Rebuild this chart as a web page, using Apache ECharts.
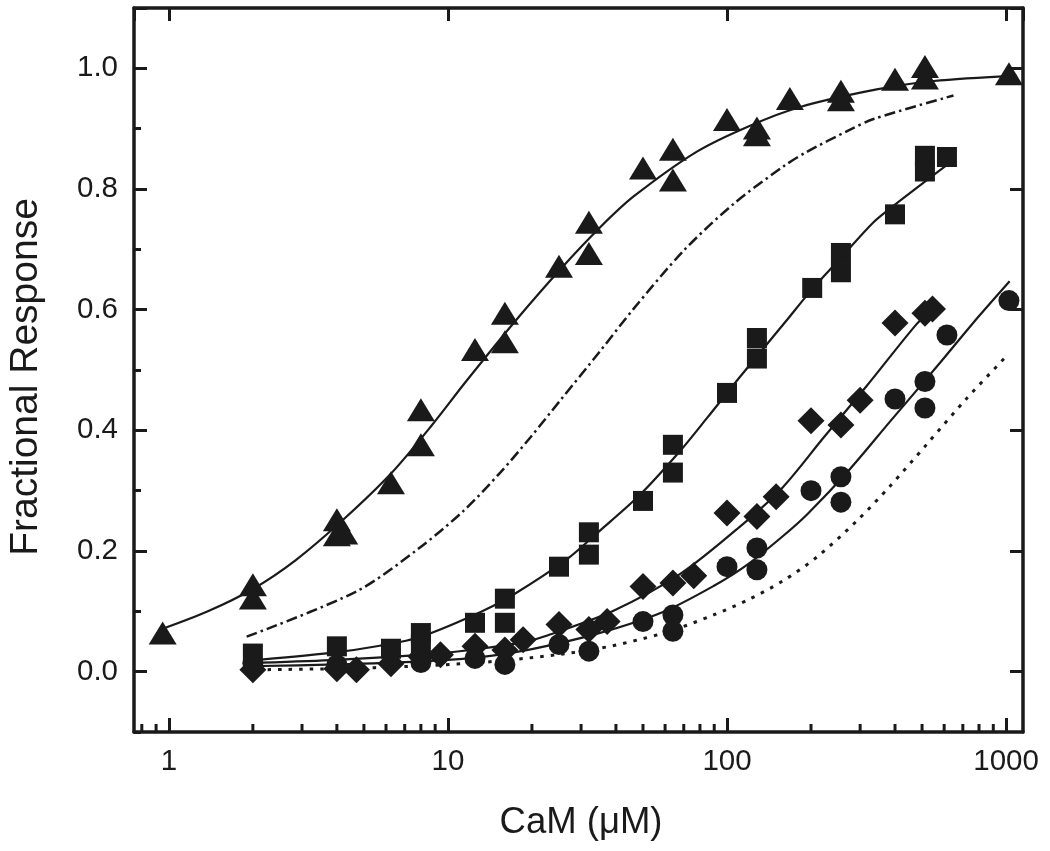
<!DOCTYPE html>
<html>
<head>
<meta charset="utf-8">
<script src="https://cdn.jsdelivr.net/npm/echarts/dist/echarts.min.js"></script>
<style>html,body{margin:0;padding:0;background:#fff}#chart{width:1050px;height:851px}</style>
</head>
<body>
<div id="chart"></div>
<script>
// ---- tick values / labels ----
const xTickValues = [1, 10, 100, 1000];
const yTickValues = [0, 0.2, 0.4, 0.6, 0.8, 1.0];
const xMinorTicks = [0.8, 0.9, 2, 3, 4, 5, 6, 7, 8, 9, 20, 30, 40, 50, 60, 70, 80, 90, 200, 300, 400, 500, 600, 700, 800, 900];
const xTitle = 'CaM (\u03bcM)';
const yTitle = 'Fractional Response';

// ---- measured points [CaM (uM), fractional response] ----
const triangles = [[0.95,0.064],[2,0.144],[2,0.122],[4,0.252],[4,0.227],[4.25,0.230],[6.25,0.313],[8,0.376],[8,0.434],
  [12.5,0.534],[16,0.594],[16,0.547],[25,0.672],[32,0.745],[32,0.693],[50,0.835],[64,0.866],[64,0.815],[100,0.915],
  [128,0.901],[128,0.890],[168,0.950],[256,0.962],[256,0.948],[400,0.982],[512,1.003],[512,0.984],[1024,0.991]];
const squares = [[2,0.030],[4,0.042],[6.25,0.038],[8,0.064],[8,0.045],[12.5,0.081],[16,0.121],[16,0.081],[25,0.174],
  [32,0.231],[32,0.194],[50,0.283],[64,0.376],[64,0.330],[100,0.462],[128,0.553],[128,0.519],[202,0.636],[256,0.694],
  [256,0.662],[400,0.758],[512,0.855],[512,0.829],[614,0.853]];
const diamonds = [[2,0.003],[4,0.005],[4.7,0.003],[6.25,0.013],[8,0.025],[9.4,0.028],[12.5,0.042],[16,0.036],[18.6,0.053],
  [25,0.078],[32,0.070],[37.2,0.083],[50,0.141],[64,0.147],[76,0.159],[100,0.263],[128,0.257],[150,0.290],[200,0.416],
  [256,0.409],[300,0.450],[400,0.578],[512,0.594],[545,0.601]];
const circles = [[2,0.014],[4,0.011],[8,0.015],[12.5,0.022],[16,0.012],[25,0.045],[32,0.034],[50,0.083],[64,0.094],
  [64,0.067],[100,0.174],[128,0.205],[128,0.169],[200,0.300],[256,0.323],[256,0.281],[400,0.452],[512,0.481],
  [512,0.437],[614,0.558],[1024,0.615]];

// ---- fitted curves ----
const fitTriangles = [[0.95,0.071],[1.38,0.100],[2,0.137],[2.85,0.185],[4.24,0.253],[6.24,0.328],[8.67,0.406],
  [11.7,0.483],[17.2,0.578],[25.3,0.667],[35.2,0.737],[46.4,0.788],[78,0.862],[121,0.905],[183,0.936],[344,0.965],
  [550,0.979],[1090,0.988]];
const fitDashDot = [[1.9,0.058],[4.7,0.133],[7.8,0.203],[11.4,0.267],[15.4,0.330],[19.8,0.389],[25.3,0.450],
  [35.2,0.532],[46,0.600],[70,0.698],[106,0.776],[160,0.838],[194,0.862],[275,0.898],[335,0.916],[648,0.955]];
const fitSquares = [[1.9,0.018],[3.8,0.031],[5.7,0.043],[8,0.058],[13.1,0.099],[17.2,0.128],[26.8,0.187],[34.3,0.230],
  [49,0.294],[68,0.366],[85,0.421],[111,0.488],[162,0.580],[202,0.634],[256,0.686],[335,0.745],[400,0.774],[640,0.846]];
const fitDiamonds = [[1.9,0.014],[3.8,0.019],[8.7,0.029],[13.1,0.038],[18.7,0.049],[22.7,0.060],[39.2,0.101],
  [68,0.162],[111,0.240],[158,0.305],[222,0.388],[316,0.473],[478,0.576],[550,0.603]];
const fitCircles = [[1.9,0.009],[4,0.012],[8,0.017],[13.1,0.024],[19.8,0.037],[34.3,0.063],[59,0.099],[89.5,0.142],
  [118,0.177],[158,0.224],[194,0.261],[276,0.336],[383,0.414],[580,0.512],[762,0.578],[1030,0.647]];
const fitDotted = [[1.9,0.003],[4,0.005],[7.5,0.009],[14.6,0.017],[32.5,0.036],[59.3,0.064],[89.5,0.094],[120,0.120],
  [158,0.150],[210,0.190],[292,0.250],[383,0.307],[520,0.377],[720,0.452],[994,0.521]];

const INK = '#1a1a1a';
const FONT = '"Liberation Sans", Arial, Helvetica, sans-serif';

const chart = echarts.init(document.getElementById('chart'), null, {renderer: 'canvas'});

function xLabel(v) {
  const n = +(+v).toPrecision(6);
  return xTickValues.some(t => Math.abs(t - n) < 1e-6 * t) ? String(n) : '';
}
function yLabel(v) {
  return yTickValues.some(t => Math.abs(t - v) < 1e-6) ? (+v).toFixed(1) : '';
}

const axisLine = {show: true, onZero: false, lineStyle: {color: INK, width: 3.5}};

function lineSeries(data, type, width) {
  return {type: 'line', xAxisIndex: 0, yAxisIndex: 0, data: data, smooth: 0.3,
    showSymbol: false, symbol: 'none', silent: true, z: 2, lineStyle: {color: INK, width: width, type: type}};
}
function scatterSeries(data, symbol, size) {
  return {type: 'scatter', xAxisIndex: 0, yAxisIndex: 0, data: data, symbol: symbol, symbolSize: size,
    itemStyle: {color: INK, opacity: 1}, z: 3, silent: true};
}

chart.setOption({
  animation: false,
  backgroundColor: '#ffffff',
  grid: [
    {left: 134, right: 27, top: 8, bottom: 119},
    {left: 134, right: 27, top: 8, bottom: 179.3}
  ],
  graphic: [
    {type: 'text', x: 581, y: 823, silent: true,
      style: {text: xTitle, fontSize: 36.5, fontFamily: FONT, fill: INK, align: 'center', verticalAlign: 'middle'}},
    {type: 'text', x: 26, y: 377, rotation: Math.PI / 2, silent: true,
      style: {text: yTitle, fontSize: 39, fontFamily: FONT, fill: INK, align: 'center', verticalAlign: 'middle'}}
  ],
  xAxis: [
    {gridIndex: 0, type: 'log', logBase: 10, min: 0.75, max: 1150, position: 'bottom',
      axisLine: axisLine,
      axisTick: {show: true, inside: true, length: 14, lineStyle: {color: INK, width: 3}},
      axisLabel: {show: true, formatter: xLabel, showMinLabel: false, showMaxLabel: false,
        fontSize: 29.5, fontFamily: FONT, color: INK, margin: 15},
      splitLine: {show: false}},
    {gridIndex: 0, type: 'log', logBase: 10, min: 0.75, max: 1150, position: 'top',
      axisLine: axisLine,
      axisTick: {show: true, inside: true, length: 13, lineStyle: {color: INK, width: 3}},
      axisLabel: {show: false}, splitLine: {show: false}},
    {gridIndex: 1, type: 'value', min: 0, max: 1, show: false}
  ],
  yAxis: [
    {gridIndex: 0, type: 'value', min: -0.1, max: 1.1, interval: 0.1, position: 'left',
      axisLine: axisLine,
      axisTick: {show: true, inside: true, length: 7, lineStyle: {color: INK, width: 3}},
      axisLabel: {show: true, formatter: yLabel, fontSize: 29.5, fontFamily: FONT, color: INK, margin: 16},
      splitLine: {show: false}},
    {gridIndex: 0, type: 'value', min: -0.1, max: 1.1, interval: 0.1, position: 'right',
      axisLine: axisLine, axisTick: {show: false}, axisLabel: {show: false}, splitLine: {show: false}},
    {gridIndex: 1, type: 'value', min: 0, max: 1.1, interval: 0.2, position: 'left',
      axisLine: {show: false},
      axisTick: {show: true, inside: true, length: 13, lineStyle: {color: INK, width: 3}},
      axisLabel: {show: false}, splitLine: {show: false}},
    {gridIndex: 1, type: 'value', min: 0, max: 1.1, interval: 0.2, position: 'right',
      axisLine: {show: false},
      axisTick: {show: true, inside: true, length: 13, lineStyle: {color: INK, width: 3}},
      axisLabel: {show: false}, splitLine: {show: false}}
  ],
  series: [
    lineSeries(fitTriangles, 'solid', 2.2),
    lineSeries(fitDashDot, [11, 4, 2.5, 4], 2.5),
    lineSeries(fitSquares, 'solid', 2.2),
    lineSeries(fitDiamonds, 'solid', 2.2),
    lineSeries(fitCircles, 'solid', 2.2),
    lineSeries(fitDotted, [3.5, 7], 3),
    scatterSeries(triangles, 'triangle', [28, 23]),
    scatterSeries(squares, 'rect', 20),
    scatterSeries(diamonds, 'diamond', 27),
    scatterSeries(circles, 'circle', 21),
    {type: 'custom', xAxisIndex: 0, yAxisIndex: 0, silent: true, z: 5, clip: false,
      data: xMinorTicks.map(v => [v, 0]),
      renderItem: function (params, api) {
        const p = api.coord([api.value(0), api.value(1)]);
        const yb = params.coordSys.y + params.coordSys.height;
        return {type: 'line', shape: {x1: p[0], y1: yb, x2: p[0], y2: yb - 8},
          style: {stroke: INK, lineWidth: 3}};
      }}
  ]
});
</script>
</body>
</html>
